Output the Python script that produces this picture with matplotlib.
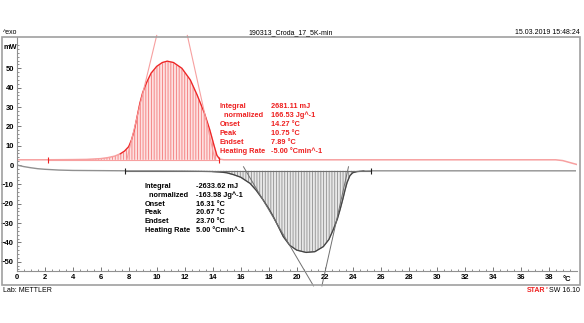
import numpy as np
import matplotlib
matplotlib.use("Agg")
from matplotlib import pyplot as plt
from matplotlib.patches import Rectangle

# cooling run (red), mW vs degC
t_cool = [0, 2, 4, 5, 6, 6.5, 7.0, 7.4, 7.7, 8.0, 8.2, 8.4, 8.6, 8.8, 9.0, 9.3, 9.6, 10.0, 10.4,
          10.75, 11.2, 11.8, 12.4, 12.9, 13.4, 13.8, 14.1, 14.3, 14.5, 14.8, 20, 25, 30, 35, 38.5,
          39.0, 39.5, 40.0]
mw_cool = [2.7, 2.7, 2.8, 2.9, 3.3, 3.8, 4.6, 5.8, 7.2, 9.5, 13, 18, 25, 32, 37.5, 43, 47.5, 51, 53,
           53.7, 53, 50, 44, 36, 27, 18, 10, 5, 3.0, 2.7, 2.7, 2.7, 2.7, 2.7, 2.7,
           2.3, 1.3, 0.3]

# heating run (black)
t_heat = [0, 0.5, 1, 1.5, 2, 3, 4, 6, 8, 10, 12, 13, 14, 14.5, 15, 15.5, 16, 16.67, 17.1, 17.6,
          18.0, 18.33, 18.7, 19.04, 19.5, 20, 20.67, 21.3, 21.9, 22.3, 22.6, 22.9, 23.1, 23.3,
          23.45, 23.6, 23.8, 24.0, 24.3, 24.8, 25.3, 30, 35, 39.9]
mw_heat = [0, -0.8, -1.4, -1.9, -2.2, -2.6, -2.8, -2.9, -3.0, -3.0, -3.1, -3.2, -3.4, -3.6, -4.0,
           -5.0, -6.3, -9.5, -13, -18, -22.5, -26.7, -32, -37, -41.5, -44, -45.2, -44.8, -42.2,
           -38.5, -33.6, -28, -23, -17.5, -13, -9, -5.5, -4.0, -3.4, -3.1, -3.0, -3.0, -3.0, -3.0]

# integration limits and tangent lines
lim_cool = [2.2, 14.46]
lim_heat = [7.74, 25.3]
tan_cool_l = ([7.86, 10.0], [2.6, 67])
tan_cool_r = ([12.19, 14.16], [67, 2.6])
tan_heat_l = ([16.2, 21.2], [-0.9, -62.5])
tan_heat_r = ([23.7, 21.8], [-0.9, -62.5])

res_labels = ["Integral", "  normalized", "Onset", "Peak", "Endset", "Heating Rate"]
res_cool = ["2681.11 mJ", "166.53 Jg^-1", "14.27 °C", "10.75 °C", "7.89 °C", "-5.00 °Cmin^-1"]
res_heat = ["-2633.62 mJ", "-163.58 Jg^-1", "16.31 °C", "20.67 °C", "23.70 °C", "5.00 °Cmin^-1"]

red = "#ee2020"
red_l = "#f7a0a0"
blk = "#404040"

plt.rcParams["font.family"] = ["Liberation Sans", "DejaVu Sans"]
plt.rcParams["hatch.linewidth"] = 0.6

fig = plt.figure(figsize=(5.84, 3.23), dpi=100)
ax = fig.add_axes([16.7 / 584, 52 / 323, 560 / 584, 234 / 323])
ax.set_xlim(0, 40)
ax.set_ylim(-54.8, 66.2)

# cooling
tc = np.array(t_cool)
mc = np.array(mw_cool)
base_c = 2.7
m = (tc >= lim_cool[0]) & (tc <= lim_cool[1])
ax.fill_between(tc[m], base_c, mc[m], facecolor="#fde0e0", edgecolor="#f47a7a",
                hatch="||||||", linewidth=0)
ax.plot(tc, mc, color=red_l, lw=1.1)
ax.plot(tc[(tc > 7) & (tc < 14.6)], mc[(tc > 7) & (tc < 14.6)], color=red, lw=0.8)
ax.plot(lim_cool, [base_c, base_c], color=red_l, lw=0.8)
ax.plot(lim_cool, [base_c, base_c], ls="none", marker="|", ms=5, color=red, mew=0.8)
ax.plot(*tan_cool_l, color=red_l, lw=0.8, clip_on=False)
ax.plot(*tan_cool_r, color=red_l, lw=0.8, clip_on=False)

# heating
th = np.array(t_heat)
mh = np.array(mw_heat)
base_h = -3.0
m = (th >= lim_heat[0]) & (th <= lim_heat[1])
ax.fill_between(th[m], base_h, mh[m], facecolor="#e8e8e8", edgecolor="#909090",
                hatch="||||||", linewidth=0)
ax.plot(th, mh, color="#909090", lw=1.0)
ax.plot(th[(th > 13) & (th < 25.3)], mh[(th > 13) & (th < 25.3)], color=blk, lw=0.8)
ax.plot(lim_heat, [base_h, base_h], color="#707070", lw=0.8)
ax.plot(lim_heat, [base_h, base_h], ls="none", marker="|", ms=5, color="#202020", mew=0.8)
ax.plot(*tan_heat_l, color="#707070", lw=0.7, clip_on=False)
ax.plot(*tan_heat_r, color="#707070", lw=0.7, clip_on=False)

# result tables
for i, (lab, val) in enumerate(zip(res_labels, res_cool)):
    y = 30.5 - i * 4.65
    ax.text(14.52, y, lab, color=red, fontsize=5.3, fontweight="bold", va="center")
    ax.text(18.2, y, val, color=red, fontsize=5.3, fontweight="bold", va="center")
for i, (lab, val) in enumerate(zip(res_labels, res_heat)):
    y = -11.2 - i * 4.5
    ax.text(9.16, y, lab, color="black", fontsize=5.3, fontweight="bold", va="center")
    ax.text(12.8, y, val, color="black", fontsize=5.3, fontweight="bold", va="center")

# axes styling
for s in ["top", "right"]:
    ax.spines[s].set_visible(False)
for s in ["left", "bottom"]:
    ax.spines[s].set_color("#909090")
    ax.spines[s].set_linewidth(0.8)
ax.set_xticks(np.arange(0, 39, 2))
ax.set_xticks(np.arange(0, 40, 0.5), minor=True)
ax.set_yticks(np.arange(-50, 51, 10))
ax.set_yticks(np.arange(-54, 64, 2), minor=True)
ax.tick_params(direction="in", length=3, width=0.6, color="#606060", labelsize=5.5, pad=2)
ax.tick_params(which="minor", direction="in", length=1.5, width=0.5, color="#606060")
for lb in ax.get_xticklabels() + ax.get_yticklabels():
    lb.set_fontweight("bold")
ax.text(0.0, 61, "mW", fontsize=5.3, fontweight="bold", ha="right", va="center")
ax.text(39.3, -59, "°C", fontsize=5.5, fontweight="bold", ha="center", va="center")

# frame and header/footer
fig.patches.append(Rectangle((2 / 584, 38 / 323), 578 / 584, 248 / 323, transform=fig.transFigure,
                             fill=False, edgecolor="#a0a0a0", lw=1.2))
fig.text(3 / 584, 1 - 33 / 323, "^exo", fontsize=5, va="center")
fig.text(291 / 584, 1 - 33 / 323, "190313_Croda_17_5K-min", fontsize=5, va="center", ha="center")
fig.text(580 / 584, 1 - 33 / 323, "15.03.2019 15:48:24", fontsize=5, va="center", ha="right")
fig.text(3 / 584, 1 - 290 / 323, "Lab: METTLER", fontsize=5, va="center")
fig.text(580 / 584, 1 - 290 / 323, "SW 16.10", fontsize=5, va="center", ha="right")
fig.text(545 / 584, 1 - 290 / 323, "STAR", fontsize=5, va="center", ha="right", color=red,
         fontweight="bold")
fig.text(545.5 / 584, 1 - 288 / 323, "e", fontsize=2.8, va="center", ha="left", color=red)

plt.savefig("out.png", dpi=100)
